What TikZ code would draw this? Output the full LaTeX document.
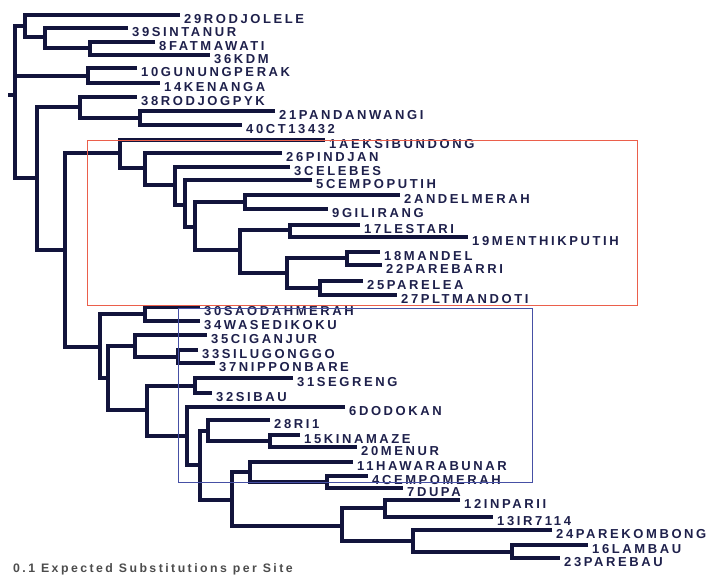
\documentclass[tikz,border=0pt]{standalone}
\usepackage{fontspec}
\setmainfont{Liberation Sans}[LetterSpace=20]
\definecolor{treeline}{RGB}{18,20,60}
\definecolor{treetext}{RGB}{30,32,75}
\definecolor{boxred}{RGB}{235,95,75}
\definecolor{boxblue}{RGB}{70,80,165}
\tikzset{
  branch/.style={line width=3.4pt, draw=treeline, line join=miter},
  leaf/.style={anchor=base west, inner sep=0pt, xshift=4pt, yshift=-8pt, text=treetext,
    font=\bfseries\fontsize{13}{14}\selectfont},
  redbox/.style={draw=boxred, line width=0.9pt},
  bluebox/.style={draw=boxblue, line width=0.9pt},
  scaletext/.style={anchor=base west, inner sep=0pt, text=black!70,
    font=\bfseries\fontsize{12.3}{13}\selectfont}
}
\begin{document}
\begin{tikzpicture}[x=1pt, y=-1pt]
    \useasboundingbox (0,0) rectangle (716,579);
    % tips and names
    \coordinate (t29) at (180,15);  \node[leaf] (l29) at (t29) {29RODJOLELE};
    \coordinate (t39) at (128,28);  \node[leaf] (l39) at (t39) {39SINTANUR};
    \coordinate (t8)  at (155,42);  \node[leaf] (l8)  at (t8)  {8FATMAWATI};
    \coordinate (t36) at (210,55);  \node[leaf] (l36) at (t36) {36KDM};
    \coordinate (t10) at (137,68);  \node[leaf] (l10) at (t10) {10GUNUNGPERAK};
    \coordinate (t14) at (160,83);  \node[leaf] (l14) at (t14) {14KENANGA};
    \coordinate (t38) at (137,97);  \node[leaf] (l38) at (t38) {38RODJOGPYK};
    \coordinate (t21) at (275,111); \node[leaf] (l21) at (t21) {21PANDANWANGI};
    \coordinate (t40) at (242,125); \node[leaf] (l40) at (t40) {40CT13432};
    \coordinate (t1)  at (325,140); \node[leaf] (l1)  at (t1)  {1AEKSIBUNDONG};
    \coordinate (t26) at (282,153); \node[leaf] (l26) at (t26) {26PINDJAN};
    \coordinate (t3)  at (290,167); \node[leaf] (l3)  at (t3)  {3CELEBES};
    \coordinate (t5)  at (312,180); \node[leaf] (l5)  at (t5)  {5CEMPOPUTIH};
    \coordinate (t2)  at (400,195); \node[leaf] (l2)  at (t2)  {2ANDELMERAH};
    \coordinate (t9)  at (328,209); \node[leaf] (l9)  at (t9)  {9GILIRANG};
    \coordinate (t17) at (360,225); \node[leaf] (l17) at (t17) {17LESTARI};
    \coordinate (t19) at (468,237); \node[leaf] (l19) at (t19) {19MENTHIKPUTIH};
    \coordinate (t18) at (380,252); \node[leaf] (l18) at (t18) {18MANDEL};
    \coordinate (t22) at (382,265); \node[leaf] (l22) at (t22) {22PAREBARRI};
    \coordinate (t25) at (363,281); \node[leaf] (l25) at (t25) {25PARELEA};
    \coordinate (t27) at (397,295); \node[leaf] (l27) at (t27) {27PLTMANDOTI};
    \coordinate (t30) at (200,307); \node[leaf] (l30) at (t30) {30SAODAHMERAH};
    \coordinate (t34) at (200,321); \node[leaf] (l34) at (t34) {34WASEDIKOKU};
    \coordinate (t35) at (207,335); \node[leaf] (l35) at (t35) {35CIGANJUR};
    \coordinate (t33) at (198,350); \node[leaf] (l33) at (t33) {33SILUGONGGO};
    \coordinate (t37) at (215,363); \node[leaf] (l37) at (t37) {37NIPPONBARE};
    \coordinate (t31) at (293,378); \node[leaf] (l31) at (t31) {31SEGRENG};
    \coordinate (t32) at (212,393); \node[leaf] (l32) at (t32) {32SIBAU};
    \coordinate (t6)  at (345,407); \node[leaf] (l6)  at (t6)  {6DODOKAN};
    \coordinate (t28) at (270,420); \node[leaf] (l28) at (t28) {28RI1};
    \coordinate (t15) at (300,435); \node[leaf] (l15) at (t15) {15KINAMAZE};
    \coordinate (t20) at (357,447); \node[leaf] (l20) at (t20) {20MENUR};
    \coordinate (t11) at (353,462); \node[leaf] (l11) at (t11) {11HAWARABUNAR};
    \coordinate (t4)  at (368,476); \node[leaf] (l4)  at (t4)  {4CEMPOMERAH};
    \coordinate (t7)  at (403,488); \node[leaf] (l7)  at (t7)  {7DUPA};
    \coordinate (t12) at (460,500); \node[leaf] (l12) at (t12) {12INPARII};
    \coordinate (t13) at (493,517); \node[leaf] (l13) at (t13) {13IR7114};
    \coordinate (t24) at (552,530); \node[leaf] (l24) at (t24) {24PAREKOMBONG};
    \coordinate (t16) at (588,545); \node[leaf] (l16) at (t16) {16LAMBAU};
    \coordinate (t23) at (560,558); \node[leaf] (l23) at (t23) {23PAREBAU};
    % inner nodes
    \coordinate (root) at (15,95);
    \coordinate (stub) at (8,95);
    \coordinate (a1) at (25,26);
    \coordinate (a2) at (45,37);
    \coordinate (a3) at (90,48);
    \coordinate (a4) at (88,76);
    \coordinate (a5) at (37,178);
    \coordinate (a6) at (80,107);
    \coordinate (a7) at (140,118);
    \coordinate (a8) at (65,250);
    \coordinate (r1) at (120,153);
    \coordinate (r2) at (145,168);
    \coordinate (r3) at (175,185);
    \coordinate (r4) at (185,205);
    \coordinate (r5) at (195,227);
    \coordinate (r6) at (245,202);
    \coordinate (r7) at (240,250);
    \coordinate (r8) at (290,230);
    \coordinate (r9) at (287,273);
    \coordinate (r10) at (347,258);
    \coordinate (r11) at (320,288);
    \coordinate (b1) at (100,347);
    \coordinate (b2) at (145,314);
    \coordinate (b3) at (108,378);
    \coordinate (b4) at (135,346);
    \coordinate (b5) at (178,357);
    \coordinate (b6) at (147,410);
    \coordinate (b7) at (195,386);
    \coordinate (b8) at (187,436);
    \coordinate (b9) at (200,465);
    \coordinate (b10) at (208,431);
    \coordinate (b11) at (270,441);
    \coordinate (b12) at (232,500);
    \coordinate (b13) at (250,472);
    \coordinate (b14) at (327,482);
    \coordinate (b15) at (342,526);
    \coordinate (b16) at (385,508);
    \coordinate (b17) at (413,541);
    \coordinate (b18) at (512,552);
    % branches
    \draw[branch] (stub) -- (root);
    \draw[branch] (a1) -| (root) |- (a5);
    \draw[branch] (root |- a4) -- (a4);
    \draw[branch] (t29) -| (a1) |- (a2);
    \draw[branch] (t39) -| (a2) |- (a3);
    \draw[branch] (t8) -| (a3) |- (t36);
    \draw[branch] (t10) -| (a4) |- (t14);
    \draw[branch] (a6) -| (a5) |- (a8);
    \draw[branch] (t38) -| (a6) |- (a7);
    \draw[branch] (t21) -| (a7) |- (t40);
    \draw[branch] (r1) -| (a8) |- (b1);
    \draw[branch] (t1) -| (r1) |- (r2);
    \draw[branch] (t26) -| (r2) |- (r3);
    \draw[branch] (t3) -| (r3) |- (r4);
    \draw[branch] (t5) -| (r4) |- (r5);
    \draw[branch] (r6) -| (r5) |- (r7);
    \draw[branch] (t2) -| (r6) |- (t9);
    \draw[branch] (r8) -| (r7) |- (r9);
    \draw[branch] (t17) -| (r8) |- (t19);
    \draw[branch] (r10) -| (r9) |- (r11);
    \draw[branch] (t18) -| (r10) |- (t22);
    \draw[branch] (t25) -| (r11) |- (t27);
    \draw[branch] (b2) -| (b1) |- (b3);
    \draw[branch] (t30) -| (b2) |- (t34);
    \draw[branch] (b4) -| (b3) |- (b6);
    \draw[branch] (t35) -| (b4) |- (b5);
    \draw[branch] (t33) -| (b5) |- (t37);
    \draw[branch] (b7) -| (b6) |- (b8);
    \draw[branch] (t31) -| (b7) |- (t32);
    \draw[branch] (t6) -| (b8) |- (b9);
    \draw[branch] (b10) -| (b9) |- (b12);
    \draw[branch] (t28) -| (b10) |- (b11);
    \draw[branch] (t15) -| (b11) |- (t20);
    \draw[branch] (b13) -| (b12) |- (b15);
    \draw[branch] (t11) -| (b13) |- (b14);
    \draw[branch] (t4) -| (b14) |- (t7);
    \draw[branch] (b16) -| (b15) |- (b17);
    \draw[branch] (t12) -| (b16) |- (t13);
    \draw[branch] (t24) -| (b17) |- (b18);
    \draw[branch] (t16) -| (b18) |- (t23);
    % boxes
    \draw[redbox] (87,140) rectangle (637,305);
    \draw[bluebox] (178,308) rectangle (532,482);
    \node[scaletext] (scale) at (13,572) {0.1 Expected Substitutions per Site};
\end{tikzpicture}
\end{document}
